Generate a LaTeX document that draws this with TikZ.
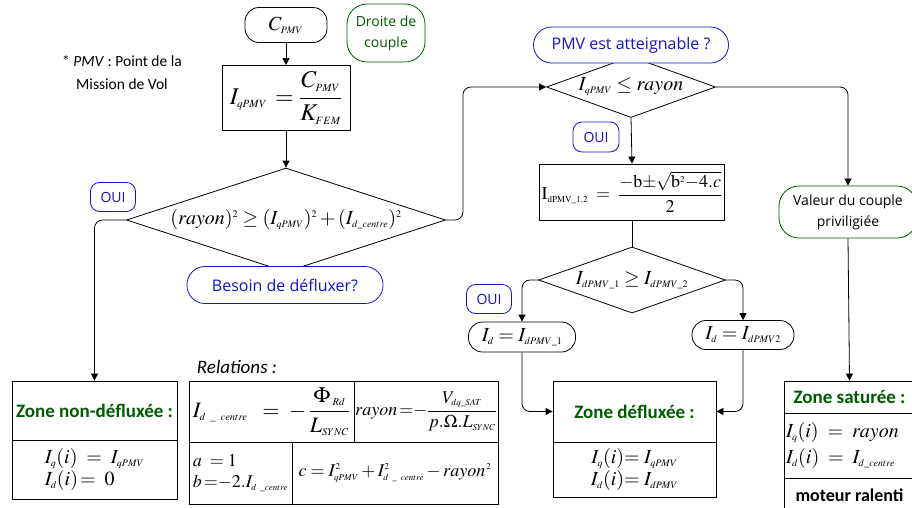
\documentclass[tikz,border=0pt]{standalone}
\usepackage{amsmath}
\usepackage{mathptmx}
\usepackage{fontspec}
\setmainfont{Carlito}
\newfontfamily\comicfont{Open Sans}
\usetikzlibrary{arrows.meta,shapes.geometric,calc}
\definecolor{fcblue}{RGB}{20,20,200}
\definecolor{fcgreen}{RGB}{0,90,0}
\DeclareMathSizes{18}{18}{9}{7}
\DeclareMathSizes{20}{20}{10}{8}
\DeclareMathSizes{22}{22}{10.5}{8.5}
\DeclareMathSizes{24}{24}{11}{9}
\newcommand{\fsz}[2]{\fontsize{#1}{#2}\selectfont}
\newcommand{\us}{\text{\_}}
\tikzset{
  termbox/.style={draw, rounded corners=14pt, fill=white, inner sep=2pt, font=\fsz{20}{24}},
  procbox/.style={draw, fill=white, inner sep=2pt, font=\fsz{20}{24}},
  decision/.style={diamond, draw, fill=white, inner sep=0pt, font=\fsz{20}{24}},
  bluetag/.style={draw=fcblue, text=fcblue, rounded corners=9pt, fill=white, inner sep=2pt, font=\comicfont\fsz{14}{17}},
  greentag/.style={draw=fcgreen, rounded corners=20pt, fill=white, inner sep=2pt, align=center, font=\comicfont\fsz{14}{21}},
  zonetitle/.style={draw, inner sep=2pt, text=fcgreen, font=\bfseries\fsz{19}{22}},
  zonebody/.style={draw, inner sep=2pt, align=left, font=\fsz{20}{22}},
  relcell/.style={draw, inner sep=0pt, font=\fsz{18}{21}},
  arr/.style={-{Triangle[length=7pt,width=7pt]}, line width=0.8pt},
  lnk/.style={line width=0.8pt},
}

\begin{document}
\begin{tikzpicture}[x=1pt,y=-1pt,line width=0.8pt]
  \useasboundingbox (0,0) rectangle (912,507);
  % left column
  \node[termbox, minimum width=82, minimum height=35] (cpmv) at (286,25) {$C_{PMV}$};
  \node[greentag, text=fcgreen, minimum width=78, minimum height=58] (droite) at (386,33) {Droite de\\couple};
  \node[align=center, font=\fsz{15.5}{23}] (note) at (122,73) {* \textit{PMV} : Point de la\\Mission de Vol};
  \node[procbox, minimum width=128, minimum height=65, font=\fsz{24}{28}] (iq) at (286,98) {$I_{qPMV}\,=\dfrac{C_{PMV}}{K_{FEM}}$};
  \node[decision, minimum width=319, minimum height=104, aspect=3.07] (d1) at (286,220)
    {$(rayon)^2\geq(I_{qPMV})^2+(I_{d\us centre})^2$};
  \node[bluetag, minimum width=45, minimum height=29] (oui1) at (113,197) {OUI};
  \node[bluetag, rounded corners=18pt, minimum width=196, minimum height=37, font=\comicfont\fsz{16}{19}] (besoin) at (285,285) {Besoin de défluxer?};
  \node[zonetitle, minimum width=165, minimum height=59] (zndt) at (94.5,410.5) {Zone non-défluxée :};
  \node[zonebody, minimum width=165, minimum height=59] (zndb) at (94.5,469.5)
    {$I_q(i)\;=\;I_{qPMV}$\\$I_d(i)\!=\;0$};
  % relations
  \node[font=\itshape\fsz{19}{22}] (rel) at (237,367) {Relations :};
  \node[relcell, minimum width=165, minimum height=61, font=\fsz{22}{24}] (r11) at (271.5,411.5)
    {$I_{d\ \us\ centre}\;\;=\;-\,\dfrac{\Phi_{\;Rd}}{L_{SYNC}}$};
  \node[relcell, minimum width=144, minimum height=61] (r12) at (426,411.5)
    {$rayon\,{=}{-}\dfrac{V_{dq\us SAT}}{p.\Omega.L_{SYNC}}$};
  \node[relcell, minimum width=103, minimum height=62, align=left] (r21) at (240.5,473)
    {$a\;=1$\\$b\,{=}{-}2.I_{d\ \us centre}$};
  \node[relcell, minimum width=206, minimum height=62] (r22) at (395,473)
    {$c=I^2_{qPMV}+I^2_{d\ \us\ centre}-rayon^{\,2}$};
  % middle column
  \node[decision, minimum width=169, minimum height=61, aspect=2.77] (d2) at (631,87) {$I_{qPMV}\leq rayon$};
  \node[bluetag, rounded corners=18pt, minimum width=195, minimum height=36, font=\comicfont\fsz{16}{19}] (atteig) at (631,45) {PMV est atteignable ?};
  \node[bluetag, minimum width=46, minimum height=30] (oui2) at (596,137) {OUI};
  \node[procbox, minimum width=168, minimum height=56, font=\fsz{18}{22}] (idbox) at (632,192)
    {$\mathrm{I}_{\mathrm{dPMV\us 1,2}}\;=\;\dfrac{-\mathrm{b}{\pm}\sqrt{\mathrm{b}^2{-}4.c}}{2}$};
  \node[decision, minimum width=187, minimum height=66, aspect=2.83] (d3) at (632,280) {$I_{dPMV\us 1}\geq I_{dPMV\us 2}$};
  \node[bluetag, minimum width=45, minimum height=29] (oui3) at (489,299) {OUI};
  \node[termbox, minimum width=107, minimum height=30] (id1) at (522,337) {$I_d=I_{dPMV\us 1}$};
  \node[termbox, minimum width=102, minimum height=29] (id2) at (743,335) {$I_d=I_{dPMV2}$};
  \node[zonetitle, minimum width=163, minimum height=61] (zdt) at (634.5,411.5) {Zone défluxée :};
  \node[zonebody, minimum width=163, minimum height=55, align=center] (zdb) at (634.5,469.5)
    {$I_q(i){=}\;I_{qPMV}$\\$I_d(i){=}\;I_{dPMV}$};
  % right column
  \node[greentag, minimum width=138, minimum height=52] (valeur) at (848,212) {Valeur du couple\\priviligiée};
  \node[zonetitle, minimum width=131, minimum height=32] (zst) at (849.5,397) {Zone saturée :};
  \node[zonebody, text width=127, minimum height=65, font=\fsz{20}{26}] (zsb) at (849.5,445.5)
    {$I_q(i)\;=\;rayon$\\$I_d(i)\;=\;I_{d\us centre}$};
  \node[draw, inner sep=2pt, minimum width=131, minimum height=34, font=\bfseries\fsz{18}{22}] (zsm) at (849.5,495) {moteur ralenti};
  % connectors
  \draw[arr] (cpmv) -- (iq);
  \draw[arr] (iq) -- (d1);
  \draw[arr, rounded corners=8] (d1.west) -| (zndt.north);
  \draw[arr, rounded corners=8] (d1.east) -- ++(17,0) |- (d2.west);
  \draw[arr] (d2.south) -- (idbox.north);
  \draw[lnk] (idbox.south) -- (d3.north);
  \draw[arr, rounded corners=8] (d3.west) -| (id1.north);
  \draw[arr, rounded corners=8] (d3.east) -| (id2.north);
  \draw[arr, rounded corners=8] (id1.south) |- (zdt.west);
  \draw[arr, rounded corners=8] (id2.south) |- (zdt.east);
  \draw[arr, rounded corners=8] (d2.east) -| (valeur.north);
  \draw[arr] (valeur.south) -- (zst.north);
\end{tikzpicture}
\end{document}
